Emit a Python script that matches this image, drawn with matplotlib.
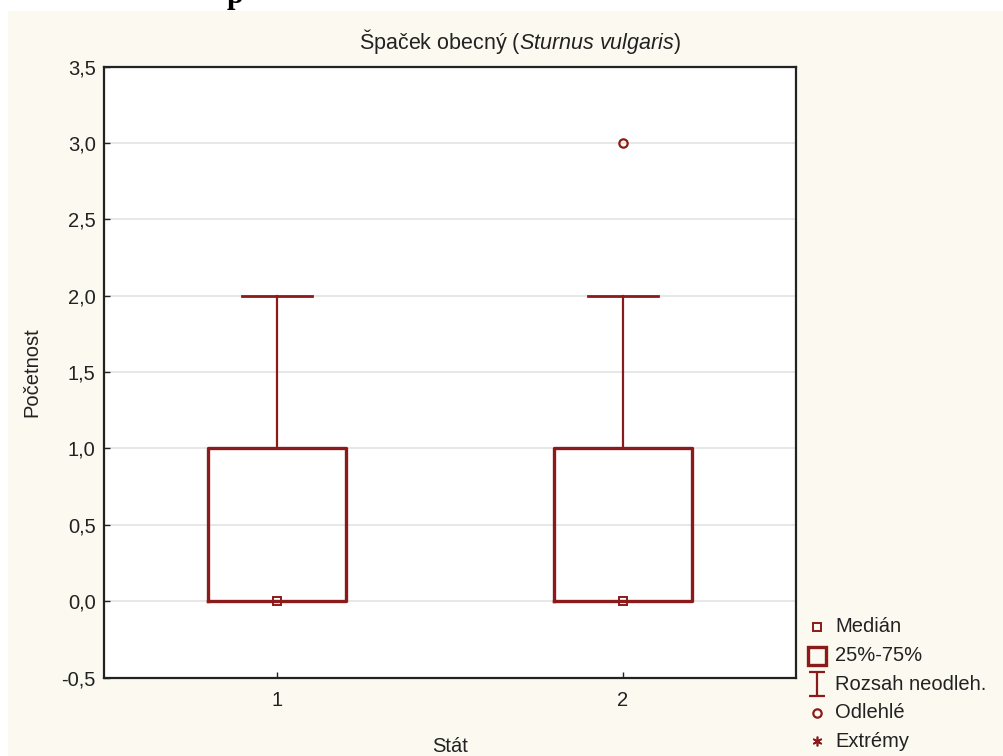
import matplotlib
matplotlib.use("Agg")
import matplotlib.pyplot as plt
from matplotlib.lines import Line2D
from matplotlib.patches import Rectangle
from matplotlib.path import Path
from matplotlib.ticker import FuncFormatter

plt.rcParams["font.family"] = ["Liberation Sans", "DejaVu Sans"]
plt.rcParams["mathtext.fontset"] = "custom"
plt.rcParams["mathtext.rm"] = "Liberation Sans"
plt.rcParams["mathtext.it"] = "Liberation Sans:italic"

# box plot summary per state
states = ["1", "2"]
medians = [0.0, 0.0]
q1 = [0.0, 0.0]
q3 = [1.0, 1.0]
whisker_lo = [0.0, 0.0]
whisker_hi = [2.0, 2.0]
outliers = [[], [3.0]]

y_ticks = [-0.5, 0.0, 0.5, 1.0, 1.5, 2.0, 2.5, 3.0, 3.5]

red = "#8b1a1a"
ink = "#222222"
fs = 14.5
W, H = 1004, 756

fig = plt.figure(figsize=(W / 100, H / 100), dpi=100, facecolor="white")
# cream page panel behind the chart
fig.patches.append(Rectangle((8 / W, 0), 1, 1 - 11 / H, transform=fig.transFigure,
                             facecolor="#fcf9f0", edgecolor="none", zorder=-10))
# bottom of the cut-off heading above the panel
fig.text(227 / W, 1 - 3 / H, "p", fontsize=22, fontweight="bold", family="Liberation Serif",
         ha="left", va="baseline", color="black")

ax = fig.add_axes([104 / W, 1 - 677.5 / H, 692 / W, (677.5 - 66.7) / H])
ax.set_facecolor("white")

stats = []
for i, name in enumerate(states):
    stats.append(dict(label=name, med=medians[i], q1=q1[i], q3=q3[i],
                      whislo=whisker_lo[i], whishi=whisker_hi[i], fliers=outliers[i]))

pos = list(range(1, len(states) + 1))
ax.bxp(stats, positions=pos, widths=0.4, capwidths=0.2,
       boxprops=dict(color=red, linewidth=2.4),
       whiskerprops=dict(color=red, linewidth=1.6),
       capprops=dict(color=red, linewidth=2.0),
       medianprops=dict(linestyle="none"),
       flierprops=dict(marker="o", markersize=6, markerfacecolor="none",
                       markeredgecolor=red, markeredgewidth=1.6),
       zorder=3)
ax.plot(pos, medians, linestyle="none", marker="s", markersize=6,
        markerfacecolor="none", markeredgecolor=red, markeredgewidth=1.4, zorder=4)

ax.set_xlim(0.5, 2.5)
ax.set_ylim(-0.5, 3.5)
ax.set_xticks(pos)
ax.set_xticklabels(states)
ax.set_yticks(y_ticks)
ax.yaxis.set_major_formatter(FuncFormatter(lambda v, p: f"{v:.1f}".replace(".", ",")))
ax.tick_params(axis="both", direction="in", length=4, width=1, labelsize=fs, colors=ink)
ax.tick_params(axis="x", pad=10)
ax.tick_params(axis="y", pad=6)
ax.grid(axis="y", color="#e3e3e3", linewidth=1.2, zorder=0)
ax.set_axisbelow(True)
for s in ax.spines.values():
    s.set_color(ink)
    s.set_linewidth(1.6)

ax.set_xlabel("Stát", fontsize=fs, labelpad=19, color=ink)
ax.set_ylabel("Početnost", fontsize=fs, labelpad=14, color=ink)
fig.text(520 / W, 1 - 42 / H, r"Špaček obecný ($\it{Sturnus\ vulgaris}$)",
         fontsize=fs + 1, ha="center", va="center", color=ink)

# legend drawn beside the axes
ibeam = Path([(-0.7, 1), (0.7, 1), (0, 1), (0, -1), (-0.7, -1), (0.7, -1)],
             [Path.MOVETO, Path.LINETO, Path.MOVETO, Path.LINETO, Path.MOVETO, Path.LINETO])
legend_items = [
    ("Medián", dict(marker="s", markersize=6, markeredgewidth=1.4)),
    ("25%-75%", dict(marker="s", markersize=13.5, markeredgewidth=2.4)),
    ("Rozsah neodleh.", dict(marker=ibeam, markersize=17, markeredgewidth=1.6)),
    ("Odlehlé", dict(marker="o", markersize=6, markeredgewidth=1.6)),
    ("Extrémy", dict(marker=(6, 2, 0), markersize=7, markeredgewidth=1.2)),
]
for k, (label, mk) in enumerate(legend_items):
    y = 1 - (627 + 28.6 * k) / H
    fig.add_artist(Line2D([817 / W], [y], transform=fig.transFigure, linestyle="none",
                          markerfacecolor="none", markeredgecolor=red, color=red, **mk))
    fig.text(835 / W, y, label, fontsize=fs, ha="left", va="center", color=ink)

fig.savefig("out.png", dpi=100, facecolor=fig.get_facecolor())
